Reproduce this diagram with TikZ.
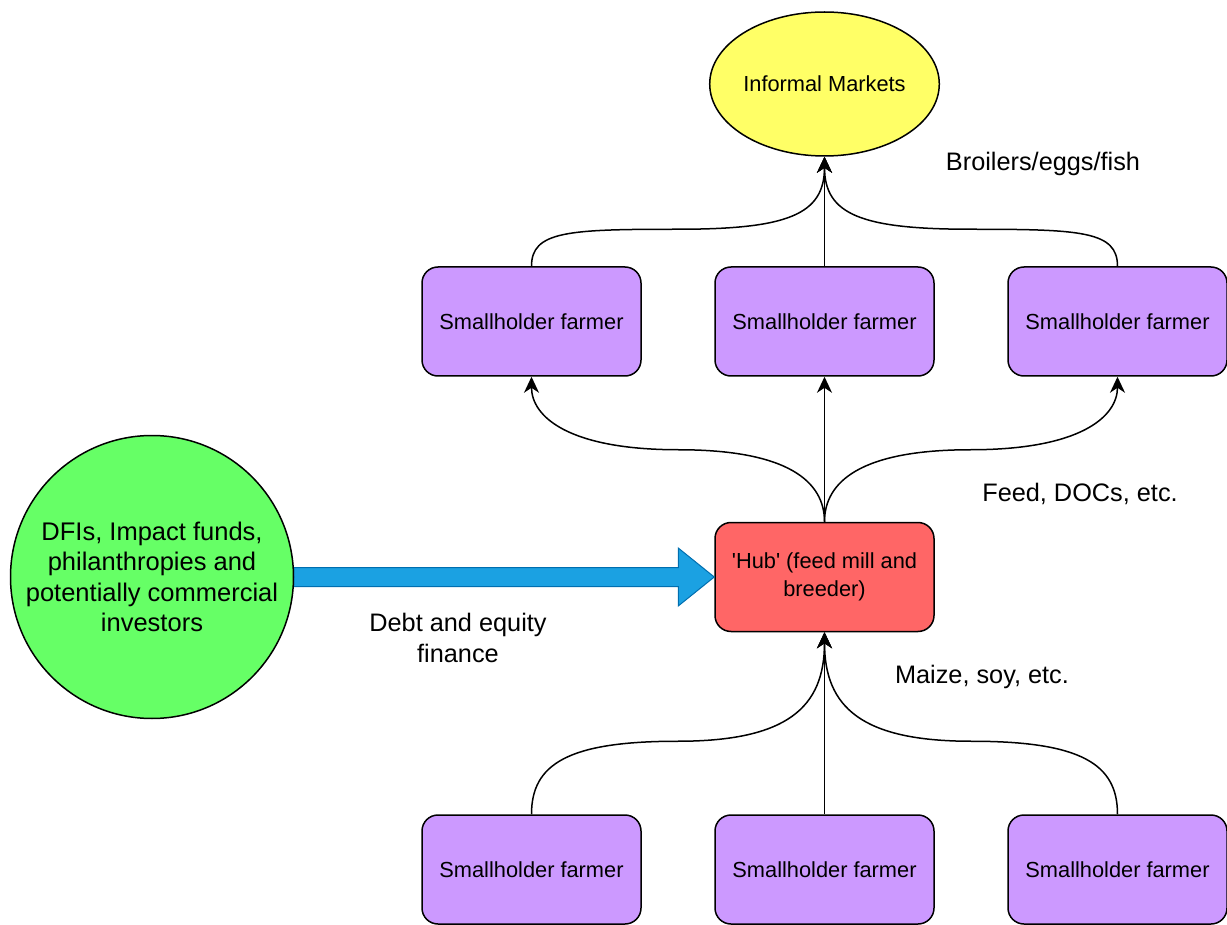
\documentclass[tikz,border=0pt]{standalone}
\usepackage{fontspec}
\setmainfont{Liberation Sans}
\newfontfamily\plainsans{Liberation Sans}
\usetikzlibrary{arrows.meta,shapes.geometric,calc}
\definecolor{farmer}{HTML}{CC99FF}
\definecolor{hubred}{HTML}{FF6666}
\definecolor{mkt}{HTML}{FFFF66}
\definecolor{inv}{HTML}{66FF66}
\definecolor{bluefill}{HTML}{1BA1E2}
\definecolor{bluedraw}{HTML}{006EAF}
\tikzset{
  farmerbox/.style={draw, line width=1.5pt, fill=farmer, rounded corners=16pt,
    minimum width=219pt, minimum height=109pt, inner sep=0pt,
    font=\fontsize{21.8}{27}\selectfont},
  hubbox/.style={farmerbox, fill=hubred, align=center, font=\plainsans\fontsize{21.8}{27.5}\selectfont},
  conn/.style={line width=1.5pt, -{Stealth[length=16pt,width=15pt,inset=5pt]}},
  lbl/.style={inner sep=0pt, font=\fontsize{25.3}{30.3}\selectfont, align=center},
}
\begin{document}
\begin{tikzpicture}[x=1pt,y=-1pt]
\useasboundingbox (0,0) rectangle (1227,925);
% nodes
\node[draw, line width=1.5pt, fill=mkt, ellipse, minimum width=221pt, minimum height=144pt, inner sep=0pt,
  font=\fontsize{21.8}{27}\selectfont] (ell) at (824.5,84) {Informal Markets};
\node[farmerbox] (tl) at (531.5,321.5) {Smallholder farmer};
\node[farmerbox] (tm) at (824.5,321.5) {Smallholder farmer};
\node[farmerbox] (tr) at (1117.5,321.5) {Smallholder farmer};
\node[hubbox] (hub) at (824.5,577) {'Hub' (feed mill and\\breeder)};
\node[farmerbox] (bl) at (531.5,869.5) {Smallholder farmer};
\node[farmerbox] (bm) at (824.5,869.5) {Smallholder farmer};
\node[farmerbox] (br) at (1117.5,869.5) {Smallholder farmer};
% blue arrow
\coordinate (ce) at (293.5,577);
\draw[line width=1pt, draw=bluedraw, fill=bluefill]
  ($(ce)+(0,-9.5)$) -- ($(hub.west)+(-36,-9.5)$) -- ($(hub.west)+(-36,-29)$)
  -- (hub.west) -- ($(hub.west)+(-36,29)$) -- ($(hub.west)+(-36,9.5)$)
  -- ($(ce)+(0,9.5)$) -- cycle;
\node[draw, line width=1.5pt, fill=inv, circle, minimum size=283pt, inner sep=0pt, align=center,
  font=\fontsize{25.5}{30.3}\selectfont] (circ) at (152,577)
  {DFIs, Impact funds,\\philanthropies and\\potentially commercial\\investors};
% connectors farmers -> markets
\draw[conn] (tm.north) -- (ell.south);
\draw[conn] (tl.north) .. controls +(0,-35) and +(-110,0) .. ++(146,-37)
  .. controls +(110,0) and +(0,58) .. (ell.south);
\draw[conn] (tr.north) .. controls +(0,-35) and +(110,0) .. ++(-146,-37)
  .. controls +(-110,0) and +(0,58) .. (ell.south);
% hub -> farmers
\draw[conn] (hub.north) -- (tm.south);
\draw[conn] (hub.north) .. controls +(0,-40) and +(110,0) .. ++(-146,-72)
  .. controls +(-110,0) and +(0,40) .. (tl.south);
\draw[conn] (hub.north) .. controls +(0,-40) and +(-110,0) .. ++(146,-72)
  .. controls +(110,0) and +(0,40) .. (tr.south);
% bottom farmers -> hub
\draw[conn] (bm.north) -- (hub.south);
\draw[conn] (bl.north) .. controls +(0,-50) and +(-110,0) .. ++(146,-73)
  .. controls +(110,0) and +(0,75) .. (hub.south);
\draw[conn] (br.north) .. controls +(0,-50) and +(110,0) .. ++(-146,-73)
  .. controls +(-110,0) and +(0,75) .. (hub.south);
% labels
\node[lbl, anchor=base] (l1) at (1043,171) {Broilers/eggs/fish};
\node[lbl, anchor=base] (l2) at (1080,501) {Feed, DOCs, etc.};
\node[lbl, anchor=base] (l3) at (982,683) {Maize, soy, etc.};
\node[lbl] (l4) at (458,638) {Debt and equity\\finance};
\end{tikzpicture}
\end{document}
